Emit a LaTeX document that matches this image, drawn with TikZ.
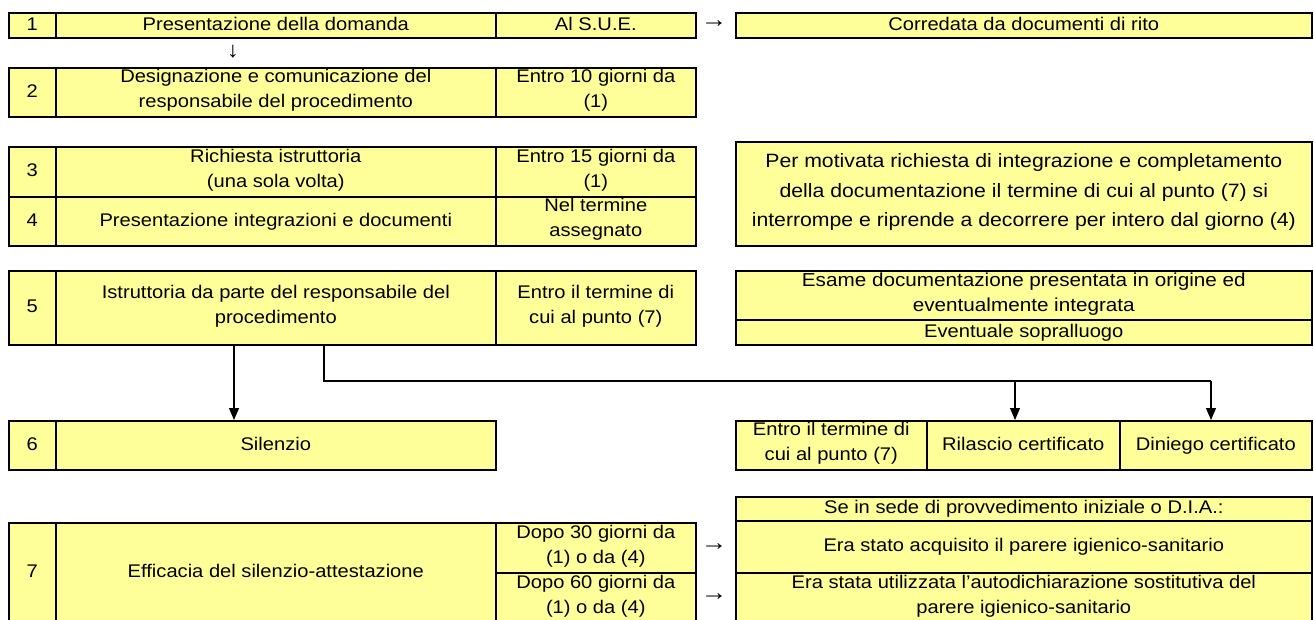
\documentclass[tikz,border=0pt]{standalone}
\usepackage{fontspec}
\setmainfont{Liberation Sans}[FakeStretch=1.1]
\usetikzlibrary{arrows.meta}
\definecolor{cellyellow}{HTML}{FFFF99}
\newcommand\cellstrutA{\rule[-7pt]{0pt}{24pt}}
\begin{document}
\begin{tikzpicture}[x=1pt,y=-1pt,
  cell/.style={draw=black, line width=1.6pt, fill=cellyellow, inner sep=0pt,
    align=center, anchor=north west, font=\fontsize{18.3}{25}\selectfont,
    execute at begin node={\cellstrutA}, execute at end node={\cellstrutA}},
  txt/.style={inner sep=0pt, font=\fontsize{24}{24}\selectfont},
  arr/.style={line width=1.1pt, -{Triangle[width=10pt,length=12pt]}},
  conn/.style={line width=1.1pt}]
\useasboundingbox (0,0) rectangle (1314,619);
% row 1
\node[cell, minimum width=47pt, minimum height=25pt] (c1a) at (8,12) {1};
\node[cell, minimum width=440pt, minimum height=25pt] (c1b) at (55,12) {Presentazione della domanda};
\node[cell, minimum width=200pt, minimum height=25pt] (c1c) at (495,12) {Al S.U.E.};
\node[txt] (a1) at (714,24.5) {→};
\node[cell, minimum width=576pt, minimum height=25pt] (c1d) at (735,12) {Corredata da documenti di rito};
\node[txt, font=\fontsize{22}{22}\selectfont] (d1) at (233,52) {↓};
% row 2
\node[cell, minimum width=47pt, minimum height=49pt] (c2a) at (8,67) {2};
\node[cell, minimum width=440pt, minimum height=49pt] (c2b) at (55,67) {Designazione e comunicazione del\\responsabile del procedimento};
\node[cell, minimum width=200pt, minimum height=49pt] (c2c) at (495,67) {Entro 10 giorni da\\(1)};
% rows 3-4
\node[cell, minimum width=47pt, minimum height=50pt] (c3a) at (8,146) {3};
\node[cell, minimum width=440pt, minimum height=50pt] (c3b) at (55,146) {Richiesta istruttoria\\(una sola volta)};
\node[cell, minimum width=200pt, minimum height=50pt] (c3c) at (495,146) {Entro 15 giorni da\\(1)};
\node[cell, minimum width=47pt, minimum height=49pt] (c4a) at (8,196) {4};
\node[cell, minimum width=440pt, minimum height=49pt] (c4b) at (55,196) {Presentazione integrazioni e documenti};
\node[cell, minimum width=200pt, minimum height=49pt] (c4c) at (495,196) {Nel termine\\assegnato};
\node[cell, minimum width=576pt, minimum height=104pt, font=\fontsize{19.3}{29.5}\selectfont] (r34) at (735,141) {Per motivata richiesta di integrazione e completamento\\della documentazione il termine di cui al punto (7) si\\interrompe e riprende a decorrere per intero dal giorno (4)};
% row 5
\node[cell, minimum width=47pt, minimum height=74pt] (c5a) at (8,270) {5};
\node[cell, minimum width=440pt, minimum height=74pt] (c5b) at (55,270) {Istruttoria da parte del responsabile del\\procedimento};
\node[cell, minimum width=200pt, minimum height=74pt] (c5c) at (495,270) {Entro il termine di\\cui al punto (7)};
\node[cell, minimum width=576pt, minimum height=49pt, font=\fontsize{18.8}{25}\selectfont] (r5a) at (735,270) {Esame documentazione presentata in origine ed\\eventualmente integrata};
\node[cell, minimum width=576pt, minimum height=25pt] (r5b) at (735,319) {Eventuale sopralluogo};
% row 6
\node[cell, minimum width=47pt, minimum height=49pt] (c6a) at (8,420) {6};
\node[cell, minimum width=440pt, minimum height=49pt] (c6b) at (55,420) {Silenzio};
\node[cell, minimum width=191pt, minimum height=49pt] (r6a) at (735,420) {Entro il termine di\\cui al punto (7)};
\node[cell, minimum width=193pt, minimum height=49pt] (r6b) at (926,420) {Rilascio certificato};
\node[cell, minimum width=192pt, minimum height=49pt] (r6c) at (1119,420) {Diniego certificato};
% row 7
\node[cell, minimum width=47pt, minimum height=100pt] (c7a) at (8,522) {7};
\node[cell, minimum width=440pt, minimum height=100pt] (c7b) at (55,522) {Efficacia del silenzio-attestazione};
\node[cell, minimum width=200pt, minimum height=50pt] (c7c) at (495,522) {Dopo 30 giorni da\\(1) o da (4)};
\node[cell, minimum width=200pt, minimum height=50pt] (c7d) at (495,572) {Dopo 60 giorni da\\(1) o da (4)};
\node[cell, minimum width=576pt, minimum height=24pt] (r7a) at (735,496) {Se in sede di provvedimento iniziale o D.I.A.:};
\node[cell, minimum width=576pt, minimum height=52pt] (r7b) at (735,520) {Era stato acquisito il parere igienico-sanitario};
\node[cell, minimum width=576pt, minimum height=50pt] (r7c) at (735,572) {Era stata utilizzata l'autodichiarazione sostitutiva del\\parere igienico-sanitario};
\node[txt] (a2) at (714,547) {→};
\node[txt] (a3) at (714,597) {→};
% connectors
\coordinate (p1) at ([xshift=179pt]c5b.south west);
\draw[arr] (p1) -- (p1 |- c6b.north);
\coordinate (p2) at ([xshift=269pt]c5b.south west);
\coordinate (bus) at (1211,381);
\coordinate (tap) at (1015,381);
\draw[conn] (p2) |- (bus);
\draw[arr] (bus) -- (bus |- r6c.north);
\draw[arr] (tap) -- (tap |- r6b.north);
\end{tikzpicture}
\end{document}
